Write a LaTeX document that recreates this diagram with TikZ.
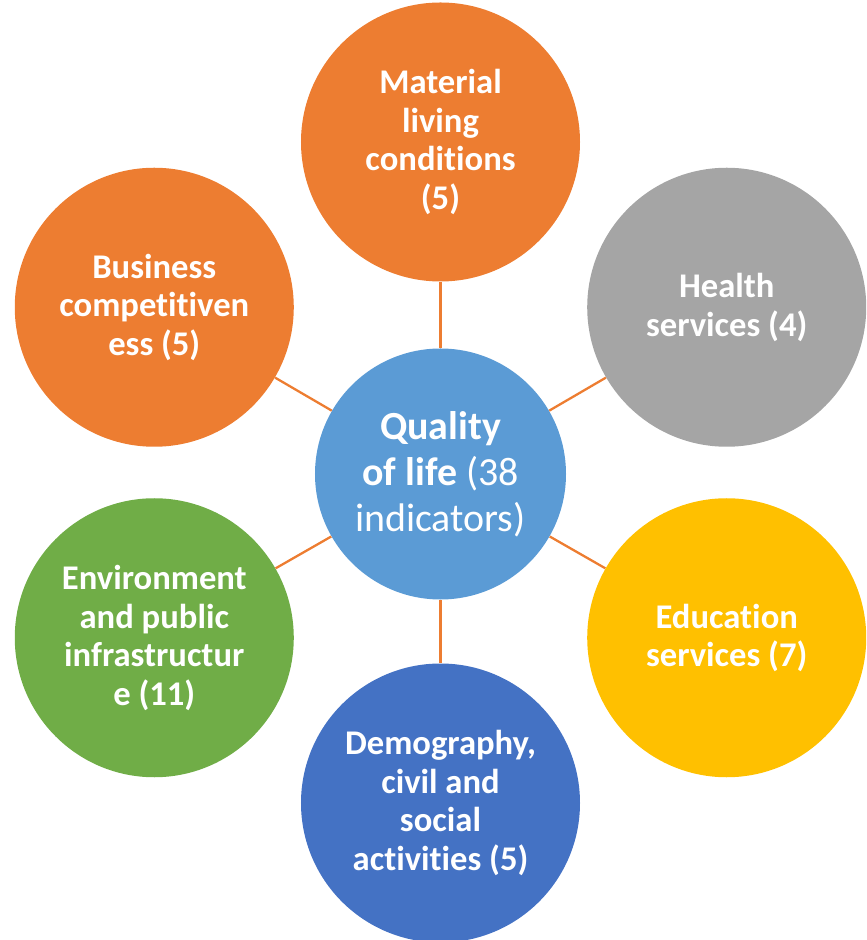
\documentclass[tikz,border=0pt]{standalone}
\usepackage{fontspec}
\setmainfont[Ligatures=NoCommon]{Carlito}
\usepackage{tikz}

\definecolor{qolblue}{HTML}{5B9BD5}
\definecolor{offorange}{HTML}{ED7D31}
\definecolor{offgray}{HTML}{A5A5A5}
\definecolor{offgold}{HTML}{FFC000}
\definecolor{offblue}{HTML}{4472C4}
\definecolor{offgreen}{HTML}{70AD47}

\tikzset{
  topic/.style={circle, minimum size=5.58cm, inner sep=0pt, text=white, align=center,
    font=\fontsize{19.7}{21.9}\selectfont\bfseries},
  link/.style={draw=offorange, line width=1.3pt}
}

\begin{document}
\begin{tikzpicture}
      \useasboundingbox (-8.81,-9.35) rectangle (8.51,9.45);
      % Centre
      \node[circle, fill=qolblue, minimum size=5.02cm, inner sep=0pt, text=white, align=center,
        font=\fontsize{22.7}{26.2}\selectfont] (qol) at (0, -0.03)
        {\textbf{Quality}\\\textbf{of life} (38\\indicators)};
      % Topics
      \node[topic, fill=offorange] (mat) at (90:6.61) {Material\\living\\conditions\\(5)};
      \node[topic, fill=offgray] (hea) at (30:6.61) {Health\\services (4)};
      \node[topic, fill=offgold] (edu) at (-30:6.61) {Education\\services (7)};
      \node[topic, fill=offblue] (dem) at (-90:6.61) {Demography,\\civil and\\social\\activities (5)};
      \node[topic, fill=offgreen] (env) at (210:6.61) {Environment\\and public\\infrastructur\\e (11)};
      \node[topic, fill=offorange] (bus) at (150:6.61) {Business\\competitiven\\ess (5)};
      % Links
      \foreach \t in {mat, hea, edu, dem, env, bus}
        \draw[link] (qol) -- (\t);
    \end{tikzpicture}
\end{document}
